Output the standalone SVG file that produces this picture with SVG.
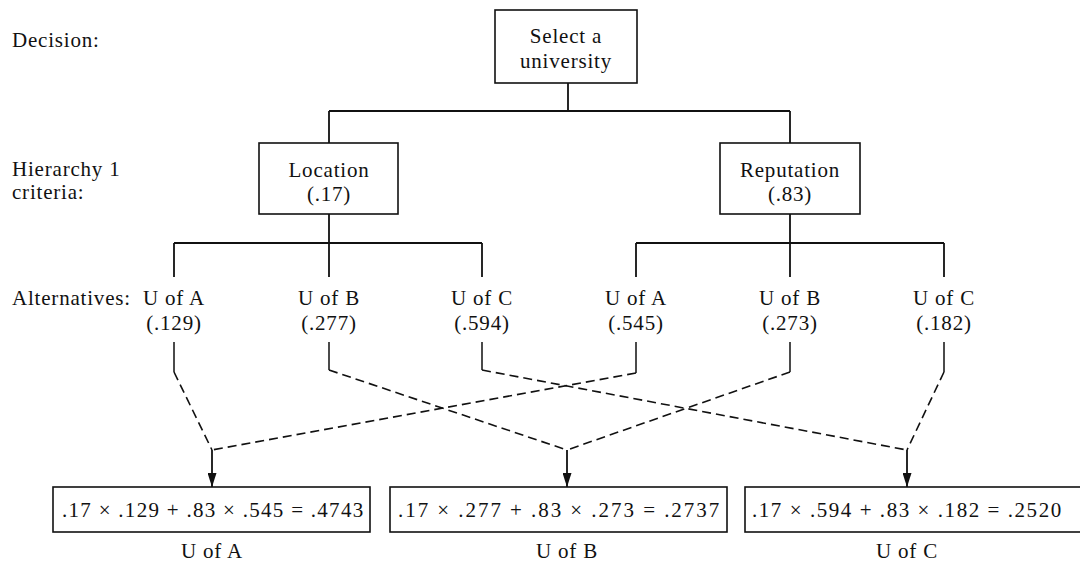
<svg xmlns="http://www.w3.org/2000/svg" width="1080" height="568" viewBox="0 0 1080 568">
<defs>
<style>
text{font-family:"Liberation Serif","Times New Roman",serif;font-size:21px;fill:#111;letter-spacing:0.8px}
.c{text-anchor:middle}
.box{fill:#fff;stroke:#111;stroke-width:1.6}
.ln{fill:none;stroke:#111;stroke-width:1.8}
.dash{fill:none;stroke:#111;stroke-width:1.6;stroke-dasharray:9 5}
</style>
<marker id="arr" viewBox="0 0 14 9" refX="14" refY="4.5" markerWidth="14" markerHeight="9" markerUnits="userSpaceOnUse" orient="auto">
<path d="M0 0 L14 4.5 L0 9 Z" fill="#111"/>
</marker>
</defs>
<rect width="1080" height="568" fill="#fff"/>

<g id="labels">
<text x="12" y="47">Decision:</text>
<text x="12" y="176">Hierarchy 1</text>
<text x="12" y="199">criteria:</text>
<text x="12" y="305">Alternatives:</text>
</g>

<g id="connectors">
<path class="ln" d="M568 83V111M329 111H790M329 111V143M790 111V143"/>
<path class="ln" d="M329 214V243M174 243H482M174 243V277M329 243V277M482 243V277"/>
<path class="ln" d="M790 214V243M636 243H944M636 243V277M790 243V277M944 243V277"/>
<path class="ln" style="stroke-width:1.5" d="M174 342V372M636 342V373M329 342V370M790 342V372M482 342V370M944 342V372"/>
<path class="dash" d="M174 372L212 450"/>
<path class="dash" d="M636 373L212 450"/>
<path class="dash" d="M329 370L567 450"/>
<path class="dash" d="M790 372L567 450"/>
<path class="dash" d="M482 370L907 450"/>
<path class="dash" d="M944 372L907 450"/>
<path class="ln" d="M212 450V487" marker-end="url(#arr)"/>
<path class="ln" d="M567 450V487" marker-end="url(#arr)"/>
<path class="ln" d="M907 450V487" marker-end="url(#arr)"/>
</g>

<g id="decision">
<rect class="box" x="495" y="10" width="142" height="73"/>
<text class="c" x="566" y="43">Select a</text>
<text class="c" x="566" y="68">university</text>
</g>

<g id="location">
<rect class="box" x="259" y="143" width="139" height="71"/>
<text class="c" x="329" y="177">Location</text>
<text class="c" x="329" y="201">(.17)</text>
</g>

<g id="reputation">
<rect class="box" x="720" y="143" width="140" height="71"/>
<text class="c" x="790" y="177">Reputation</text>
<text class="c" x="790" y="201">(.83)</text>
</g>

<g id="alt-loc-a"><text class="c" x="174" y="305">U of A</text><text class="c" x="174" y="330">(.129)</text></g>
<g id="alt-loc-b"><text class="c" x="329" y="305">U of B</text><text class="c" x="329" y="330">(.277)</text></g>
<g id="alt-loc-c"><text class="c" x="482" y="305">U of C</text><text class="c" x="482" y="330">(.594)</text></g>
<g id="alt-rep-a"><text class="c" x="636" y="305">U of A</text><text class="c" x="636" y="330">(.545)</text></g>
<g id="alt-rep-b"><text class="c" x="790" y="305">U of B</text><text class="c" x="790" y="330">(.273)</text></g>
<g id="alt-rep-c"><text class="c" x="944" y="305">U of C</text><text class="c" x="944" y="330">(.182)</text></g>

<g id="result-a">
<rect class="box" x="53" y="487" width="317" height="45"/>
<text x="62" y="517" textLength="302" lengthAdjust="spacing">.17 × .129 + .83 × .545 = .4743</text>
<text class="c" x="212" y="558">U of A</text>
</g>
<g id="result-b">
<rect class="box" x="390" y="487" width="337" height="45"/>
<text x="398" y="517" textLength="322" lengthAdjust="spacing">.17 × .277 + .83 × .273 = .2737</text>
<text class="c" x="567" y="558">U of B</text>
</g>
<g id="result-c">
<rect class="box" x="745" y="487" width="345" height="45"/>
<text x="752" y="517" textLength="310" lengthAdjust="spacing">.17 × .594 + .83 × .182 = .2520</text>
<text class="c" x="907" y="558">U of C</text>
</g>
</svg>
